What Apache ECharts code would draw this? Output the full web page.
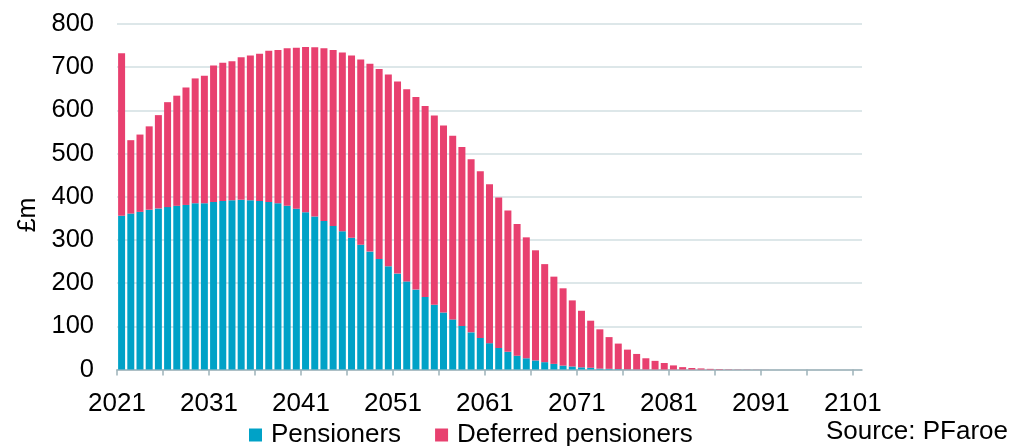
<!DOCTYPE html>
<html>
<head>
<meta charset="utf-8">
<script src="https://cdn.jsdelivr.net/npm/echarts@6/dist/echarts.min.js"></script>
<style>
html,body{margin:0;padding:0;background:#fff;}
#chart{width:1011px;height:446px;}
</style>
</head>
<body>
<div id="chart"></div>
<script>
// Data
const firstYear = 2021;
const lastYear = 2101;
const years = [];
for (let y = firstYear; y <= lastYear; y++) years.push(String(y));

const pensioners = [
  356,361,365,370,373,376,379,381,385,385,
  388,390,392,393,392,390,388,385,379,372,
  364,354,344,332,320,305,289,273,256,239,
  222,204,185,168,150,132,116,101,86,73,
  61,50,41,32,26,21,17,13,9,7,
  5,4,2,1.5,1,0.5,0.3,0.2,0.1,0,
  0,0,0,0,0,0,0,0,0,0,
  0,0,0,0,0,0,0,0,0,0,
  0
];
const deferred = [
  376,170,179,193,216,243,255,272,289,295,
  316,320,322,330,335,341,350,355,365,373,
  383,392,400,408,414,422,429,435,440,444,
  445,445,446,442,438,433,425,414,401,386,
  368,348,327,305,280,255,227,202,179,153,
  131,109,91,73.5,59,45.5,35.7,25.8,19.9,15,
  9.5,5.5,3.5,2.5,1.5,1,0.6,0.4,0.3,0.2,
  0.1,0,0,0,0,0,0,0,0,0,
  0
];
const xTickLabels = ['2021','2031','2041','2051','2061','2071','2081','2091','2101'];
const yTicks = [0,100,200,300,400,500,600,700,800];
const seriesNames = ['Pensioners','Deferred pensioners'];
const yAxisTitle = '£m';
const sourceText = 'Source: PFaroe';

// Positions of labels/ticks on the auxiliary value axis (index from first year)
const labelOffsets = xTickLabels.map(l => Number(l) - firstYear);
const tickOffsets = [];
for (let i = 0; i <= lastYear - firstYear; i += 5) tickOffsets.push(i);

const FONT = '"Liberation Sans", Arial, sans-serif';
const BLUE = '#00a2c7';
const PINK = '#e8406f';

const chart = echarts.init(document.getElementById('chart'), null, {renderer: 'canvas'});
chart.setOption({
  animation: false,
  backgroundColor: '#ffffff',
  grid: {left: 117, right: 149, top: 24, bottom: 76.5, containLabel: false},
  legend: {
    data: seriesNames,
    left: 249,
    top: 422,
    itemWidth: 13,
    itemHeight: 13,
    itemGap: 34,
    icon: 'rect',
    textStyle: {fontFamily: FONT, fontSize: 26, color: '#000', padding: [0,0,0,4]},
    padding: 0
  },
  xAxis: [
    {
      type: 'category',
      data: years,
      show: false,
      boundaryGap: true
    },
    {
      type: 'value',
      position: 'bottom',
      min: 0,
      max: lastYear - firstYear + 1,
      axisLine: {show: true, lineStyle: {color: '#9db2b9', width: 1.5}},
      axisTick: {show: true, length: 6, customValues: tickOffsets, lineStyle: {color: '#9db2b9', width: 1.5}},
      axisLabel: {
        show: true,
        customValues: labelOffsets,
        formatter: v => String(firstYear + v),
        fontFamily: FONT, fontSize: 26, color: '#000', margin: 21
      },
      splitLine: {show: false}
    }
  ],
  yAxis: {
    type: 'value',
    min: yTicks[0],
    max: yTicks[yTicks.length - 1],
    interval: 100,
    axisLine: {show: false},
    axisTick: {show: false},
    axisLabel: {fontFamily: FONT, fontSize: 25.5, color: '#000', margin: 23},
    splitLine: {lineStyle: {color: '#d2dfe2', width: 1.5}}
  },
  series: [
    {
      name: seriesNames[0],
      type: 'bar',
      stack: 'total',
      xAxisIndex: 0,
      data: pensioners,
      barWidth: '76%',
      itemStyle: {color: BLUE}
    },
    {
      name: seriesNames[1],
      type: 'bar',
      stack: 'total',
      xAxisIndex: 0,
      data: deferred,
      barWidth: '76%',
      itemStyle: {color: PINK}
    }
  ],
  graphic: [
    {
      type: 'text',
      x: 28, y: 215,
      rotation: Math.PI / 2,
      style: {text: yAxisTitle, font: '25px ' + FONT, fill: '#000', textAlign: 'center', textVerticalAlign: 'middle'}
    },
    {
      type: 'text',
      x: 1008, y: 432,
      style: {text: sourceText, font: '26px ' + FONT, fill: '#000', textAlign: 'right', textVerticalAlign: 'middle'}
    }
  ]
});
</script>
</body>
</html>
